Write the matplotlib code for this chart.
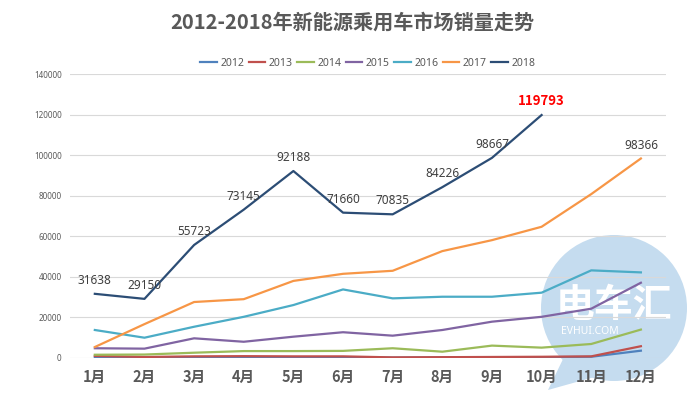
import matplotlib
matplotlib.use("Agg")
import matplotlib.pyplot as plt
from matplotlib.patches import Ellipse, Polygon

plt.rcParams["font.family"] = ["Noto Sans CJK SC", "DejaVu Sans"]

# =======================
# Data
# =======================
MONTHS = ["1月", "2月", "3月", "4月", "5月", "6月",
          "7月", "8月", "9月", "10月", "11月", "12月"]

S2012 = [300, 200, 300, 300, 300, 300, 200, 300, 300, 400, 600, 3600]
S2013 = [1000, 500, 800, 900, 800, 800, 300, 400, 500, 600, 800, 5800]
S2014 = [1600, 1700, 2600, 3400, 3400, 3500, 4800, 3100, 6100, 5100, 6900, 14000]
S2015 = [4800, 4600, 9700, 8000, 10500, 12700, 11000, 13800, 17900, 20300, 24300, 37100]
S2016 = [13800, 10000, 15400, 20300, 26100, 33800, 29400, 30200, 30200, 32200, 43200, 42200]
S2017 = [5400, 16700, 27600, 29000, 38000, 41500, 43000, 52700, 58100, 64700, 80800, 98366]
S2018 = [31638, 29150, 55723, 73145, 92188, 71660, 70835, 84226, 98667, 119793]

SERIES = [
    ("2012", S2012, "#4F81BD"),
    ("2013", S2013, "#C0504D"),
    ("2014", S2014, "#9BBB59"),
    ("2015", S2015, "#8064A2"),
    ("2016", S2016, "#4BACC6"),
    ("2017", S2017, "#F79646"),
    ("2018", S2018, "#2C4D75"),
]

TEXT_COLOR = "#595959"
LABEL_COLOR = "#404040"
LATIN = ["Noto Sans", "DejaVu Sans"]


def main():
    fig = plt.figure(figsize=(7.0, 3.96), dpi=100)
    ax = fig.add_axes([0.100, 0.096, 0.851, 0.717])

    x_all = list(range(len(MONTHS)))
    for name, vals, color in SERIES:
        ax.plot(x_all[:len(vals)], vals, color=color, linewidth=1.6,
                label=name, zorder=3)

    # data labels: 2018 every month, 2017 only December
    for i, v in enumerate(S2018):
        if i == len(S2018) - 1:
            ax.annotate(str(v), (i, v), xytext=(0, 5), textcoords="offset points",
                        ha="center", va="bottom", fontsize=9.5, color="red",
                        fontweight="bold", zorder=5)
        else:
            ax.annotate(str(v), (i, v), xytext=(0, 5), textcoords="offset points",
                        ha="center", va="bottom", fontsize=8.5, color=LABEL_COLOR,
                        family=LATIN, zorder=5)
    ax.annotate(str(S2017[-1]), (len(S2017) - 1, S2017[-1]), xytext=(0, 5),
                textcoords="offset points", ha="center", va="bottom",
                fontsize=8.5, color=LABEL_COLOR, family=LATIN, zorder=5)

    ax.set_xlim(-0.5, len(MONTHS) - 0.5)
    ax.set_ylim(0, 140000)
    ax.set_yticks(range(0, 140001, 20000))
    ax.set_xticks(x_all)
    ax.set_xticklabels(MONTHS, fontsize=10.5, fontweight="bold", color=TEXT_COLOR)
    for lab in ax.get_yticklabels():
        lab.set_fontsize(5.8)
        lab.set_color(TEXT_COLOR)
        lab.set_family(LATIN)

    ax.tick_params(axis="x", length=0, pad=8)
    ax.tick_params(axis="y", length=0, pad=6)
    ax.set_axisbelow(True)  # axis (grid + tick labels) at zorder 0.5
    ax.grid(axis="y", color="#D9D9D9", linewidth=0.8)
    for sp in ax.spines.values():
        sp.set_visible(False)

    ax.legend(loc="lower center", bbox_to_anchor=(0.5, 1.0), ncol=7,
              frameon=False, handlelength=1.6, handletextpad=0.35,
              columnspacing=0.4, labelcolor=TEXT_COLOR, borderaxespad=0.1,
              prop={"family": LATIN, "size": 7.5})

    fig.text(0.503, 0.944, "2012-2018年新能源乘用车市场销量走势", ha="center",
             va="center", fontsize=14.5, fontweight="bold", color=TEXT_COLOR)

    # watermark (speech bubble logo), kept beneath grid, ticks and lines
    wx, wy, wr = 614, 308, 73  # pixel centre / radius
    W, H = 700, 396
    ax.add_patch(Ellipse((wx / W, 1 - wy / H), 2 * wr / W, 2 * wr / H,
                         transform=fig.transFigure, color="#C5DCEF",
                         zorder=0.2, lw=0, clip_on=False))
    tail = [(565 / W, 1 - 355 / H), (548 / W, 1 - 390 / H), (598 / W, 1 - 376 / H)]
    ax.add_patch(Polygon(tail, closed=True, transform=fig.transFigure,
                         color="#C5DCEF", zorder=0.2, lw=0, clip_on=False))
    ax.text(614 / W, 1 - 306 / H, "电车汇", ha="center", va="center",
            transform=fig.transFigure, fontsize=28, fontweight="bold",
            color="white", zorder=0.3, clip_on=False)
    ax.text(590 / W, 1 - 331 / H, "EVHUI.COM", ha="center", va="center",
            transform=fig.transFigure, fontsize=7.5, fontweight="bold",
            color="white", zorder=0.3, family=LATIN, clip_on=False)

    fig.savefig("out.png", dpi=100)


if __name__ == "__main__":
    main()
